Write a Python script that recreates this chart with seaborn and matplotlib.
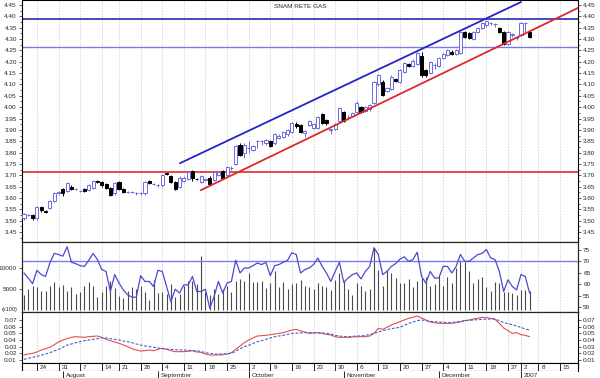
import numpy as np
import pandas as pd
import matplotlib
matplotlib.use("Agg")
import matplotlib.pyplot as plt
from matplotlib.ticker import MultipleLocator
import seaborn as sns

# ---- data ----
opens = [3.51, 3.523, 3.525, 3.51, 3.56, 3.542, 3.555, 3.585, 3.62, 3.64,
         3.63, 3.65, 3.64, 3.63, 3.64, 3.635, 3.645, 3.675, 3.67, 3.66,
         3.645, 3.62, 3.67, 3.64, 3.625, 3.625, 3.62, 3.62, 3.62, 3.675,
         3.66, 3.655, 3.655, 3.71, 3.695, 3.67, 3.65, 3.675, 3.685, 3.72,
         3.685, 3.67, 3.68, 3.69, 3.68, 3.70, 3.72, 3.70, 3.73, 3.75,
         3.835, 3.80, 3.82, 3.81, 3.85, 3.85, 3.84, 3.85, 3.84, 3.865,
         3.87, 3.88, 3.89, 3.925, 3.92, 3.885, 3.92, 3.91, 3.91, 3.97,
         3.945, 3.90, 3.905, 3.94, 3.98, 3.955, 3.96, 3.98, 4.00, 3.985,
         3.99, 4.02, 4.10, 4.11, 4.07, 4.08, 4.125, 4.11, 4.155, 4.19,
         4.18, 4.19, 4.225, 4.165, 4.15, 4.185, 4.18, 4.215, 4.23, 4.245,
         4.235, 4.24, 4.33, 4.325, 4.30, 4.33, 4.35, 4.36, 4.37, 4.365,
         4.35, 4.33, 4.28, 4.32, 4.305, 4.32, 4.37, 4.33]
closes = [3.53, 3.527, 3.51, 3.56, 3.545, 3.54, 3.585, 3.62, 3.625, 3.62,
          3.665, 3.64, 3.64, 3.632, 3.63, 3.655, 3.675, 3.67, 3.655, 3.645,
          3.615, 3.665, 3.64, 3.625, 3.625, 3.625, 3.62, 3.622, 3.67, 3.665,
          3.66, 3.657, 3.70, 3.705, 3.67, 3.64, 3.69, 3.69, 3.715, 3.69,
          3.683, 3.695, 3.682, 3.66, 3.715, 3.715, 3.69, 3.735, 3.732, 3.83,
          3.79, 3.835, 3.822, 3.83, 3.852, 3.852, 3.855, 3.83, 3.88, 3.875,
          3.89, 3.90, 3.93, 3.915, 3.89, 3.895, 3.94, 3.925, 3.955, 3.93,
          3.93, 3.902, 3.925, 3.995, 3.94, 3.957, 3.975, 4.02, 3.98, 4.00,
          4.01, 4.11, 4.14, 4.055, 4.085, 4.135, 4.115, 4.165, 4.195, 4.18,
          4.205, 4.24, 4.14, 4.14, 4.20, 4.187, 4.215, 4.235, 4.25, 4.235,
          4.25, 4.33, 4.31, 4.305, 4.33, 4.35, 4.37, 4.38, 4.372, 4.367,
          4.33, 4.28, 4.33, 4.322, 4.307, 4.37, 4.372, 4.31]
highs = [3.535, 3.53, 3.53, 3.565, 3.565, 3.545, 3.59, 3.625, 3.63, 3.645,
         3.67, 3.655, 3.645, 3.635, 3.645, 3.66, 3.68, 3.68, 3.675, 3.665,
         3.65, 3.67, 3.675, 3.645, 3.63, 3.63, 3.625, 3.625, 3.675, 3.68,
         3.665, 3.66, 3.705, 3.712, 3.70, 3.675, 3.695, 3.695, 3.72, 3.725,
         3.69, 3.70, 3.685, 3.695, 3.72, 3.72, 3.725, 3.74, 3.74, 3.835,
         3.84, 3.84, 3.85, 3.835, 3.855, 3.855, 3.86, 3.855, 3.885, 3.88,
         3.895, 3.905, 3.935, 3.935, 3.925, 3.90, 3.945, 3.93, 3.96, 3.975,
         3.95, 3.905, 3.93, 4.00, 3.985, 3.965, 3.98, 4.025, 4.005, 4.005,
         4.015, 4.115, 4.145, 4.12, 4.09, 4.14, 4.13, 4.17, 4.20, 4.195,
         4.21, 4.245, 4.245, 4.17, 4.205, 4.195, 4.22, 4.24, 4.255, 4.25,
         4.255, 4.335, 4.335, 4.33, 4.335, 4.355, 4.375, 4.385, 4.375, 4.37,
         4.355, 4.335, 4.335, 4.325, 4.31, 4.375, 4.375, 4.335]
lows = [3.505, 3.52, 3.505, 3.505, 3.54, 3.535, 3.55, 3.58, 3.615, 3.61,
        3.625, 3.635, 3.635, 3.625, 3.625, 3.63, 3.64, 3.665, 3.65, 3.64,
        3.61, 3.615, 3.635, 3.62, 3.62, 3.62, 3.615, 3.615, 3.615, 3.66,
        3.655, 3.65, 3.65, 3.70, 3.665, 3.635, 3.645, 3.67, 3.68, 3.675,
        3.68, 3.665, 3.675, 3.655, 3.675, 3.695, 3.685, 3.695, 3.725, 3.745,
        3.785, 3.775, 3.80, 3.805, 3.82, 3.835, 3.835, 3.825, 3.835, 3.86,
        3.865, 3.875, 3.885, 3.91, 3.885, 3.87, 3.915, 3.905, 3.905, 3.925,
        3.92, 3.88, 3.90, 3.935, 3.935, 3.945, 3.955, 3.975, 3.975, 3.98,
        3.985, 4.015, 4.095, 4.05, 4.065, 4.075, 4.11, 4.105, 4.15, 4.175,
        4.175, 4.185, 4.135, 4.135, 4.145, 4.17, 4.175, 4.21, 4.225, 4.23,
        4.23, 4.235, 4.305, 4.30, 4.295, 4.325, 4.345, 4.355, 4.36, 4.355,
        4.325, 4.275, 4.275, 4.31, 4.295, 4.315, 4.33, 4.305]

volume = [3500, 5000, 5750, 5500, 4600, 4600, 5750, 6650, 5500, 6000,
          4600, 5500, 3850, 4200, 5600, 6650, 5750, 3100, 4400, 5750,
          6900, 5150, 3350, 2900, 4600, 5500, 5000, 5750, 4200, 2350,
          7100, 4000, 4200, 3800, 6100, 3100, 3850, 5750, 6900, 6900,
          6100, 12950, 4240, 3480, 5000, 3860, 5000, 5760, 4240, 6890,
          7420, 6890, 8790, 6670, 6670, 6890, 5150, 6370, 9170, 5380,
          6740, 5000, 6290, 6520, 7040, 5760, 5380, 5000, 6520, 5760,
          5380, 4850, 7120, 8790, 6890, 5000, 3480, 6520, 5760, 4620,
          5000, 14800, 9550, 5760, 9550, 8790, 7650, 6520, 6520, 7420,
          5380, 6890, 7650, 7800, 5760, 6140, 8180, 5760, 7800, 6520,
          9920, 11800, 11400, 9170, 6520, 7270, 7800, 5380, 4620, 6740,
          6520, 4240, 4240, 4090, 3480, 4770, 4700, 4620]

rsi = [64.9, 62.7, 60.2, 66.1, 64.2, 63.4, 69.3, 73.5, 73.0, 72.3,
       76.4, 69.6, 69.0, 68.1, 67.8, 70.5, 73.5, 70.8, 66.4, 65.6,
       56.8, 64.2, 60.5, 57.5, 55.3, 54.3, 54.3, 63.7, 61.2, 61.2,
       59.0, 66.1, 65.6, 59.0, 52.3, 57.8, 56.1, 59.7, 59.7, 63.4,
       56.8, 56.8, 57.8, 49.4, 54.6, 61.2, 56.1, 60.5, 61.2, 70.5,
       64.9, 67.1, 67.1, 68.1, 69.3, 68.6, 69.6, 63.7, 68.1, 68.6,
       69.6, 70.5, 73.8, 73.0, 64.9, 66.4, 67.1, 68.6, 71.5, 67.8,
       64.9, 61.2, 65.6, 69.6, 60.8, 62.7, 64.2, 64.9, 62.3, 65.6,
       67.8, 76.0, 73.0, 64.2, 65.6, 67.8, 69.0, 71.0, 72.0, 70.0,
       70.8, 74.0, 63.4, 60.5, 65.6, 62.7, 62.7, 67.8, 67.8, 64.9,
       67.8, 73.0, 70.0, 70.0, 71.5, 73.0, 73.5, 75.2, 71.5, 70.8,
       65.6, 56.8, 61.9, 59.0, 57.5, 64.2, 63.4, 56.1]

osc_red = [0.0175, 0.019, 0.020, 0.022, 0.025, 0.027, 0.029, 0.033, 0.037, 0.040,
           0.042, 0.044, 0.045, 0.0445, 0.044, 0.045, 0.0455, 0.046, 0.044, 0.041,
           0.039, 0.037, 0.035, 0.0325, 0.030, 0.027, 0.025, 0.0235, 0.024, 0.025,
           0.024, 0.026, 0.0275, 0.026, 0.024, 0.0225, 0.0225, 0.0225, 0.023, 0.024,
           0.022, 0.0215, 0.019, 0.0175, 0.0175, 0.0175, 0.018, 0.019, 0.021, 0.026,
           0.031, 0.036, 0.040, 0.043, 0.046, 0.0465, 0.047, 0.048, 0.049, 0.050,
           0.051, 0.053, 0.055, 0.056, 0.0535, 0.052, 0.050, 0.0505, 0.051, 0.050,
           0.0485, 0.0475, 0.045, 0.044, 0.044, 0.044, 0.0445, 0.045, 0.045, 0.045,
           0.046, 0.050, 0.0575, 0.056, 0.059, 0.0625, 0.065, 0.0675, 0.070, 0.0725,
           0.074, 0.076, 0.073, 0.070, 0.067, 0.066, 0.065, 0.065, 0.065, 0.065,
           0.066, 0.067, 0.069, 0.070, 0.0715, 0.0725, 0.074, 0.0735, 0.0725, 0.071,
           0.065, 0.058, 0.054, 0.050, 0.051, 0.048, 0.047, 0.045]
osc_blue = [0.011, 0.0125, 0.014, 0.0155, 0.017, 0.019, 0.021, 0.0235, 0.026, 0.029,
            0.0325, 0.034, 0.036, 0.0375, 0.039, 0.040, 0.041, 0.042, 0.0435, 0.043,
            0.042, 0.041, 0.040, 0.0385, 0.0375, 0.036, 0.034, 0.0325, 0.031, 0.030,
            0.029, 0.028, 0.027, 0.0265, 0.026, 0.0255, 0.025, 0.025, 0.0245, 0.024,
            0.024, 0.0225, 0.021, 0.020, 0.019, 0.019, 0.019, 0.0195, 0.020, 0.023,
            0.027, 0.030, 0.032, 0.035, 0.0375, 0.039, 0.041, 0.043, 0.045, 0.046,
            0.047, 0.0485, 0.050, 0.0503, 0.0505, 0.051, 0.051, 0.051, 0.0508, 0.0505,
            0.050, 0.049, 0.047, 0.046, 0.045, 0.045, 0.0455, 0.046, 0.046, 0.047,
            0.048, 0.050, 0.052, 0.054, 0.0555, 0.057, 0.058, 0.059, 0.062, 0.065,
            0.067, 0.069, 0.070, 0.069, 0.068, 0.0675, 0.067, 0.0665, 0.066, 0.0665,
            0.067, 0.068, 0.069, 0.0695, 0.070, 0.0705, 0.071, 0.0712, 0.0715, 0.0715,
            0.069, 0.066, 0.0645, 0.063, 0.061, 0.059, 0.0565, 0.055]

# horizontal levels and trend lines drawn on the price panel (day index, price)
level_top = 4.388
level_mid = 4.267
level_low = 3.716
blue_trend_days = [36.1, 115.0]
blue_trend_prices = [3.753, 4.463]
red_trend_days = [40.9, 128.2]
red_trend_prices = [3.634, 4.437]

holidays = ['2006-08-15', '2006-12-25', '2006-12-26', '2007-01-01']
week_dates = ['2006-07-24', '2006-07-31', '2006-08-07', '2006-08-14', '2006-08-21',
              '2006-08-28', '2006-09-04', '2006-09-11', '2006-09-18', '2006-09-25',
              '2006-10-02', '2006-10-09', '2006-10-16', '2006-10-23', '2006-10-30',
              '2006-11-06', '2006-11-13', '2006-11-20', '2006-11-27', '2006-12-04',
              '2006-12-11', '2006-12-18', '2006-12-27', '2007-01-02', '2007-01-08',
              '2007-01-15']
month_dates = ['2006-08-01', '2006-09-01', '2006-10-02', '2006-11-01', '2006-12-01', '2007-01-02']
month_labels = ['August', 'September', 'October', 'November', 'December', '2007']

# ---- style ----
sns.set_style("white")
plt.rcParams['font.family'] = ['Liberation Sans', 'DejaVu Sans']
FS = 4.6
UP = '#6c6cdc'
GRID = '#c4c4c4'

days = pd.bdate_range('2006-07-19', '2007-01-19')
days = days[~days.isin(pd.to_datetime(holidays))]
x = np.arange(len(opens))
week_idx = [days.get_loc(pd.Timestamp(d)) for d in week_dates]
week_lab = [str(pd.Timestamp(d).day) for d in week_dates]
month_idx = [days.get_loc(pd.Timestamp(d)) for d in month_dates]
XLIM = (-0.45, 128.2)

W, H = 600, 378
fig = plt.figure(figsize=(6, 3.78), dpi=100)
L, AW = 22 / W, 556 / W


def box(top, bottom):
    return [L, 1 - bottom / H, AW, (bottom - top) / H]


ax1 = fig.add_axes(box(0, 242))
ax2 = fig.add_axes(box(242, 312))
ax3 = fig.add_axes(box(312, 363))
ax4 = fig.add_axes(box(363, 371))
ax5 = fig.add_axes(box(371, 378))

for ax in (ax1, ax2, ax3, ax4, ax5):
    ax.set_xlim(*XLIM)
    ax.set_xticks([])
    for s in ax.spines.values():
        s.set_color('black')
        s.set_linewidth(0.8)

for ax in (ax1, ax2, ax3):
    for t in week_idx:
        ax.axvline(t, color=GRID, lw=0.5, ls=(0, (2, 2)), zorder=0)

# ---- price panel ----
o = np.array(opens)
c = np.array(closes)
up = c >= o
ax1.vlines(x, lows, highs, colors=np.where(up, UP, 'black'), lw=0.7, zorder=2)
ax1.bar(x, np.abs(c - o), bottom=np.minimum(o, c), width=0.72,
        color=np.where(up, 'white', 'black'), edgecolor=np.where(up, UP, 'black'),
        linewidth=0.7, zorder=3)
ax1.axhline(level_top, color='#2a2ab4', lw=1.2, zorder=1)
ax1.axhline(level_mid, color='#7a7ae6', lw=1.0, zorder=1)
ax1.axhline(level_low, color='#e02a2a', lw=1.2, zorder=1)
ax1.plot(blue_trend_days, blue_trend_prices, color='#2424c8', lw=1.3, zorder=4)
ax1.plot(red_trend_days, red_trend_prices, color='#e02828', lw=1.3, zorder=4)
ax1.set_ylim(3.406, 4.472)
ax1.set_yticks(np.arange(3.45, 4.451, 0.05))
ax1.yaxis.set_major_formatter(plt.FormatStrFormatter('%.2f'))
ax1.yaxis.set_minor_locator(MultipleLocator(0.025))
ax1.text(0.5, 0.985, 'SNAM RETE GAS', transform=ax1.transAxes, ha='center',
         va='top', fontsize=FS)

# ---- volume + RSI panel ----
ax2.vlines(x, 0, volume, colors='#4a4a4a', lw=0.8, zorder=2)
ax2.set_ylim(-480, 16190)
ax2.set_yticks([5000, 10000])
ax2r = ax2.twinx()
ax2r.set_xlim(*XLIM)
ax2r.axhline(70, color='#7c7cf0', lw=1.0, zorder=1)
sns.lineplot(x=x, y=rsi, ax=ax2r, color='#4a4ad2', lw=0.9)
ax2r.set_ylim(47.8, 78.5)
ax2r.set_yticks([50, 55, 60, 65, 70, 75])
ax2r.set_ylabel('')
fig.text(2 / W, 1 - 309 / H, '(x100)', fontsize=FS - 0.6, va='center', ha='left')

# ---- oscillator panel ----
sns.lineplot(x=x, y=osc_red, ax=ax3, color='#e05050', lw=0.8)
sns.lineplot(x=x, y=osc_blue, ax=ax3, color='#4060d0', lw=0.8, linestyle=(0, (2.5, 1.5)))
ax3.set_ylim(0.0055, 0.082)
ax3.set_yticks([0.01, 0.02, 0.03, 0.04, 0.05, 0.06, 0.07])
ax3.yaxis.set_major_formatter(plt.FormatStrFormatter('%.2f'))
ax3.set_xlim(*XLIM)

for ax in (ax1, ax3):
    ax.tick_params(axis='y', which='both', left=True, right=True, labelleft=True,
                   labelright=True, labelsize=FS, width=0.5, pad=1.5, direction='out')
    ax.tick_params(axis='y', which='major', length=2.2)
    ax.tick_params(axis='y', which='minor', length=1.2)
ax2.tick_params(axis='y', left=True, labelleft=True, labelsize=FS, length=2.2,
                width=0.5, pad=1.5)
ax2r.tick_params(axis='y', right=True, labelright=True, labelsize=FS, length=2.2,
                 width=0.5, pad=1.5)
ax2r.set_xticks([])

# ---- date rows ----
ax4.set_ylim(0, 1)
ax4.set_yticks([])
ax4.vlines(week_idx, 0, 1, colors='black', lw=0.6)
for t, lab in zip(week_idx, week_lab):
    ax4.text(t + 0.7, 0.45, lab, fontsize=FS, ha='left', va='center')

ax5.set_ylim(0, 1)
ax5.set_yticks([])
for s in ax5.spines.values():
    s.set_visible(False)
ax5.vlines(month_idx, 0, 1, colors='black', lw=0.6)
for t, lab in zip(month_idx, month_labels):
    ax5.text(t + 0.7, 0.4, lab, fontsize=FS, ha='left', va='center')

fig.savefig('out.png', dpi=100)
